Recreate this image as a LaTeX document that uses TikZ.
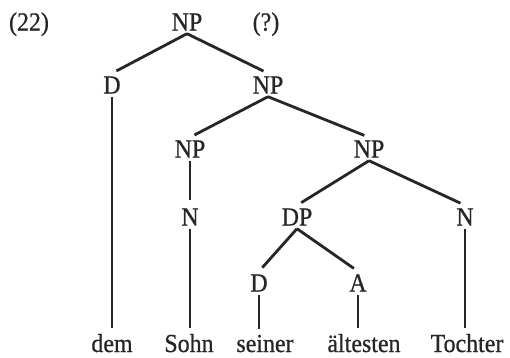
\documentclass[tikz,border=0pt]{standalone}
\usepackage{fontspec}
\setmainfont{Liberation Serif}[FakeBold=0.7,FakeStretch=0.92]
\definecolor{ink}{RGB}{38,38,38}
\begin{document}
\begin{tikzpicture}[x=1pt,y=-1pt]
\tikzstyle{cat}=[inner sep=3pt,text height=17pt,text depth=0pt,font=\fontsize{26}{30}\selectfont,text=ink]
\tikzstyle{word}=[inner sep=3pt,anchor=base,text depth=0pt,font=\fontsize{26}{30}\selectfont,text=ink]
\tikzstyle{branch}=[draw=ink,line width=2.8pt,shorten >=5pt]
\tikzstyle{stem}=[draw=ink,line width=2.8pt,shorten >=3pt]
\useasboundingbox (0,0) rectangle (510,357);

\node[cat] at (29,22) (num) {(22)};
\node[cat] at (187,22) (np0) {NP};
\node[cat] at (266,22) (query) {(?)};
\node[cat] at (112,85) (d1) {D};
\node[cat] at (268,85) (np1) {NP};
\node[cat] at (190,149) (np2) {NP};
\node[cat] at (369,149) (np3) {NP};
\node[cat] at (190,217) (n1) {N};
\node[cat] at (297,217) (dp) {DP};
\node[cat] at (465,217) (n2) {N};
\node[cat] at (259,283) (d2) {D};
\node[cat] at (358,283) (a) {A};

\node[word] at (112,352) (dem) {dem};
\node[word] at (189,352) (sohn) {Sohn};
\node[word] at (265,352) (seiner) {seiner};
\node[word] at (364,352) (aeltesten) {ältesten};
\node[word] at (467,352) (tochter) {Tochter};

\draw[branch] (np0.south) -- (d1.north);
\draw[branch] (np0.south) -- (np1.north);
\draw[branch] (np1.south) -- (np2.north);
\draw[branch] (np1.south) -- (np3.north);
\draw[branch] (np2.south) -- (n1.north);
\draw[branch] (np3.south) -- (dp.north);
\draw[branch] (np3.south) -- (n2.north);
\draw[branch] (dp.south) -- (d2.north);
\draw[branch] (dp.south) -- (a.north);

\draw[stem] (d1.south) -- (d1 |- dem.north);
\draw[stem] (n1.south) -- (n1 |- sohn.north);
\draw[stem] (d2.south) -- (d2 |- seiner.north);
\draw[stem] (a.south) -- (a |- aeltesten.north);
\draw[stem] (n2.south) -- (n2 |- tochter.north);
\end{tikzpicture}
\end{document}
